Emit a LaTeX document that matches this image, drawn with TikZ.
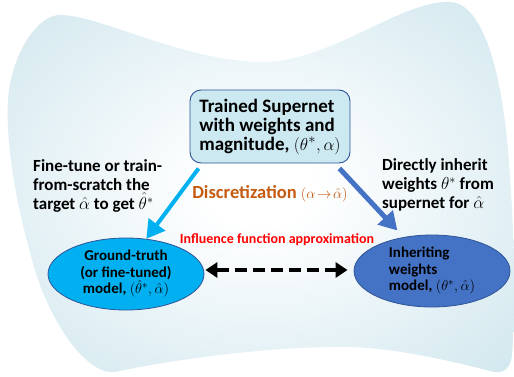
\documentclass[tikz,border=0pt]{standalone}
\usepackage{amsmath}
\usepackage{fontspec}
\setmainfont{Carlito}
\usetikzlibrary{arrows.meta}
\usetikzlibrary{shapes.geometric}

\definecolor{bgblue}{RGB}{205,229,237}
\definecolor{boxblue}{RGB}{204,232,241}
\definecolor{edgeblue}{RGB}{47,85,151}
\definecolor{cyanfill}{RGB}{0,176,240}
\definecolor{bluefill}{RGB}{68,114,196}
\definecolor{discorange}{RGB}{197,90,17}

\pgfdeclareradialshading{blob}{\pgfpoint{0bp}{0bp}}{color(0bp)=(white); color(5bp)=(white); color(38bp)=(bgblue); color(60bp)=(bgblue)}

\begin{document}
\begin{tikzpicture}[x=1pt,y=-1pt,
  supbox/.style={draw=edgeblue,line width=0.9pt,fill=boxblue,rounded corners=11pt,minimum width=160pt,minimum height=73pt,align=left,inner sep=0pt,font=\fontsize{19}{19}\selectfont\bfseries},
  model/.style={ellipse,draw=edgeblue,line width=0.8pt,minimum width=156pt,minimum height=72pt,inner sep=0pt,font=\fontsize{15}{16.5}\selectfont\bfseries},
  note/.style={inner sep=0pt,align=left,font=\fontsize{17}{19}\selectfont\bfseries},
  fat/.style={line width=4pt,-{Triangle[length=18pt,width=20pt]}}]
  \useasboundingbox (0,0) rectangle (514,377);
  % background blob
  \shade[shading=blob] (60,15) .. controls (100,15) and (180,60) .. (260,62)
    .. controls (330,63) and (400,0) .. (450,2)
    .. controls (480,3) and (500,60) .. (508,150)
    .. controls (514,220) and (516,300) .. (512,355)
    .. controls (510,372) and (500,374) .. (490,371)
    .. controls (440,358) and (380,345) .. (330,347)
    .. controls (260,348) and (170,360) .. (115,372)
    .. controls (85,375) and (50,320) .. (35,270)
    .. controls (20,220) and (5,150) .. (8,100)
    .. controls (10,60) and (35,15) .. (60,15) -- cycle;

  \node[supbox]  (sup)  at (270,126.5)  {Trained Supernet\\with weights and\\magnitude, $(\theta^*,\alpha)$};
  \node[model,fill=cyanfill,align=center]  (gt)  at (126,274)  {Ground-truth\\(or fine-tuned)\\model, $(\hat{\theta}^*,\hat{\alpha})$};
  \node[model,fill=bluefill,align=left]  (inh)  at (432,271)  {Inheriting\\weights\\model, $(\theta^*,\hat{\alpha})$};

  \node[note,anchor=west]  (ft)  at (33,186)  {Fine-tune or train-\\from-scratch the\\target $\hat{\alpha}$ to get $\hat{\theta}^*$};
  \node[note,anchor=west]  (di)  at (382,185)  {Directly inherit\\weights $\theta^*$ from\\supernet for $\hat{\alpha}$};
  \node[note,text=discorange,font=\fontsize{18.5}{19}\selectfont\bfseries]  (disc)  at (270,194)  {Discretization {\fontsize{15}{16}\selectfont$(\alpha\!\rightarrow\!\hat{\alpha})$}};
  \node[inner sep=0pt,text=red,font=\fontsize{14}{15}\selectfont\bfseries]  (infl)  at (277,240)  {Influence function approximation};

  \draw[fat,cyanfill] ([xshift=9pt,yshift=-5pt]sup.south west) -- (gt.60);
  \draw[fat,bluefill,line width=5pt,shorten >=9pt] ([xshift=-11pt,yshift=-5pt]sup.south east) -- (inh.130);
  \draw[line width=4pt,dash pattern=on 12pt off 6pt,{Triangle[length=12pt,width=15pt]}-{Triangle[length=12pt,width=15pt]},shorten >=6pt,shorten <=1pt]
    ([yshift=4pt]gt.east) -- ([yshift=4pt]gt.east -| inh.west);
\end{tikzpicture}
\end{document}
